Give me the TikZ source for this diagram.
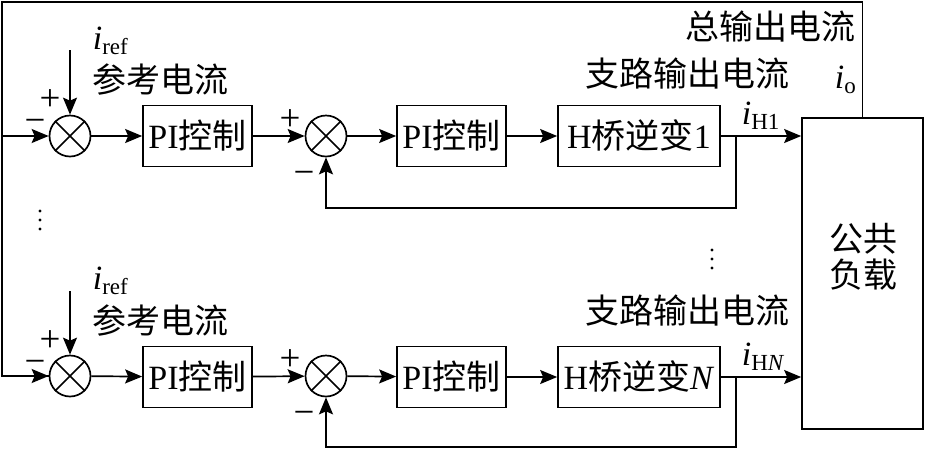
\documentclass[tikz,border=0pt]{standalone}
\usepackage{fontspec}
\setmainfont{Liberation Serif}
\newfontfamily\cjk{Noto Sans CJK SC}
\usetikzlibrary{arrows.meta}
\newcommand\zh[1]{{\cjk #1}}
\newcommand\subtxt[1]{\raisebox{-0.35ex}{\fontsize{23}{23}\selectfont #1}}
\begin{document}
\begin{tikzpicture}[x=1pt,y=-1pt,line width=1.7pt,
  >={Stealth[length=17pt,width=14pt,inset=3pt]},
  every node/.style={font=\fontsize{34}{38}\selectfont},
  sumnode/.style={circle,draw,minimum size=41pt,inner sep=0pt},
  blk/.style={draw,rectangle,inner sep=0pt,minimum height=61pt},
  lbl/.style={inner sep=0pt},
  sgn/.style={inner sep=0pt,text height=10pt,text depth=0pt,font=\fontsize{37}{37}\selectfont},
  dotmark/.style={fill,circle,inner sep=0pt,minimum size=3.4pt}]
\useasboundingbox (0,0) rectangle (925,451);

% ---------- blocks ----------
\node[blk,minimum width=121pt,minimum height=311pt] (load) at (862.5,273.5) {};
\node[lbl,align=center] (loadtxt) at (863,257) {\zh{公共}\\[-2pt]\zh{负载}};

% top row
\node[sumnode] (s1) at (70,136) {};
\node[blk,minimum width=109pt] (pi1) at (197.5,136) {PI\zh{控制}};
\node[sumnode] (s2) at (326,136) {};
\node[blk,minimum width=109pt] (pi2) at (451.5,136) {PI\zh{控制}};
\node[blk,minimum width=162pt] (h1) at (639,136) {H\zh{桥逆变}1};

% bottom row
\node[sumnode] (s1b) at (70,376) {};
\node[blk,minimum width=109pt] (pi1b) at (197.5,377) {PI\zh{控制}};
\node[sumnode] (s2b) at (326,376) {};
\node[blk,minimum width=109pt] (pi2b) at (451.5,377) {PI\zh{控制}};
\node[blk,minimum width=162pt] (hN) at (639,377) {H\zh{桥逆变}\textit{N}};

% crosses in summing junctions
\foreach \s in {s1,s2,s1b,s2b}{
  \draw (\s.45) -- (\s.225) (\s.135) -- (\s.315);
}

% ---------- outer loop ----------
\coordinate (tl) at (2,2);
\coordinate (tr) at (load.north |- tl);
\draw (load.north) -- (tr) -- (tl) |- (s1b.west);
\draw[->] (tl |- s1) -- (s1);
\draw[->] (tl |- s1b) -- (s1b);

% reference arrows
\coordinate (r1) at (70,50);
\coordinate (r2) at (70,291);
\draw[->] (r1) -- (s1);
\draw[->] (r2) -- (s1b);

% forward paths
\draw[->] (s1) -- (pi1);
\draw[->] (pi1) -- (s2);
\draw[->] (s2) -- (pi2);
\draw[->] (pi2) -- (h1);
\draw[->] (h1) -- (h1 -| load.west);

\draw[->] (s1b) -- (pi1b);
\draw[->] (pi1b) -- (s2b);
\draw[->] (s2b) -- (pi2b);
\draw[->] (pi2b) -- (hN);
\draw[->] (hN) -- (hN -| load.west);

% feedback
\coordinate (t1) at (736,136);
\coordinate (f1) at (736,208);
\draw[->] (t1) -- (f1) -| (s2.south);
\coordinate (t2) at (736,377);
\coordinate (f2) at (736,447);
\draw[->] (t2) -- (f2) -| (s2b.south);

% ---------- signs ----------
\node[sgn] (p1) at (50,105) {+};
\node[sgn] (m1) at (35,127) {−};
\node[sgn] (p2) at (290,125) {+};
\node[sgn] (m2) at (304,179) {−};
\node[sgn] (p1b) at (50,346) {+};
\node[sgn] (m1b) at (35,368) {−};
\node[sgn] (p2b) at (290,365) {+};
\node[sgn] (m2b) at (304,419) {−};

% ---------- labels ----------
\node[lbl,anchor=west] (iref1) at (92,41) {\textit{i}\subtxt{ref}};
\node[lbl,anchor=west] (ck1) at (92,80) {\zh{参考电流}};
\node[lbl,anchor=west] (iref2) at (92,281) {\textit{i}\subtxt{ref}};
\node[lbl,anchor=west] (ck2) at (92,321) {\zh{参考电流}};

\node[lbl,anchor=east] (total) at (856,27) {\zh{总输出电流}};
\node[lbl,anchor=west] (io) at (834,80) {\textit{i}\subtxt{o}};
\node[lbl,anchor=east] (br1) at (790,74) {\zh{支路输出电流}};
\node[lbl,anchor=east] (br2) at (790,311) {\zh{支路输出电流}};
\node[lbl,anchor=west] (ih1) at (741,116) {\textit{i}\subtxt{H1}};
\node[lbl,anchor=west] (ihN) at (741,357) {\textit{i}\subtxt{H\textit{N}}};

% ---------- ellipsis dots ----------
\foreach \yy in {211,220,229}{ \node[dotmark] at (40,\yy) {}; }
\foreach \yy in {250,259,268}{ \node[dotmark] at (712,\yy) {}; }
\end{tikzpicture}
\end{document}
